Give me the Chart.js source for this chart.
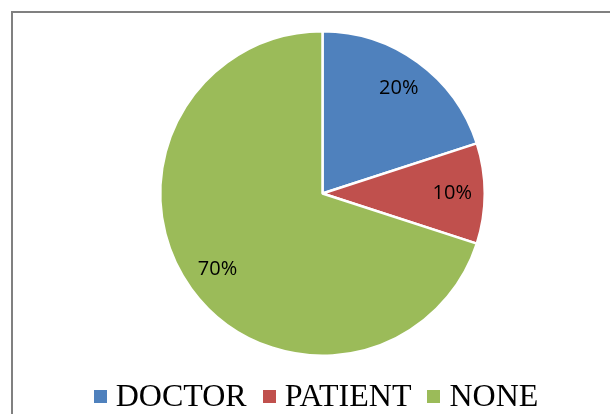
<!DOCTYPE html>
<html>
<head>
<meta charset="utf-8">
<script src="https://cdn.jsdelivr.net/npm/chart.js@4/dist/chart.umd.min.js"></script>
<style>
  html, body { margin: 0; padding: 0; background: #ffffff; overflow: hidden; }
  #wrap { position: relative; width: 610px; height: 414px; }
  #frame { position: absolute; left: 11px; top: 11px; width: 640px; height: 440px;
           border-left: 2px solid #808080; border-top: 2px solid #808080; box-sizing: border-box; }
  canvas { position: absolute; left: 0; top: 0; }
</style>
</head>
<body>
<div id="wrap">
  <div id="frame"></div>
  <canvas id="c" width="610" height="414"></canvas>
</div>
<script>
const categories = ["DOCTOR", "PATIENT", "NONE"];
const values = [20, 10, 70];
const valueLabels = ["20%", "10%", "70%"];
const colors = ["#4F81BD", "#C0504D", "#9BBB59"];

const sliceLabels = {
  id: 'sliceLabels',
  afterDatasetsDraw(chart) {
    const ctx = chart.ctx;
    const meta = chart.getDatasetMeta(0);
    ctx.save();
    ctx.font = '20px "Open Sans", "Liberation Sans", sans-serif';
    ctx.fillStyle = '#000000';
    ctx.textAlign = 'center';
    ctx.textBaseline = 'middle';
    meta.data.forEach((arc, i) => {
      const p = arc.getProps(['x', 'y', 'startAngle', 'endAngle', 'outerRadius'], true);
      const mid = (p.startAngle + p.endAngle) / 2;
      const r = p.outerRadius * 0.8;
      ctx.fillText(valueLabels[i], p.x + Math.cos(mid) * r, p.y + Math.sin(mid) * r);
    });
    ctx.restore();
  }
};

const bottomLegend = {
  id: 'bottomLegend',
  afterDraw(chart) {
    const ctx = chart.ctx;
    ctx.save();
    ctx.font = '32px "Liberation Serif", "Times New Roman", serif';
    const box = 13, gapText = 9, gapItem = 16;
    const widths = categories.map(c => ctx.measureText(c).width);
    let total = 0;
    widths.forEach((w, i) => { total += box + gapText + w + (i < widths.length - 1 ? gapItem : 0); });
    let x = 316 - total / 2;
    const baseline = 406;
    ctx.textBaseline = 'alphabetic';
    ctx.textAlign = 'left';
    categories.forEach((c, i) => {
      ctx.fillStyle = colors[i];
      ctx.fillRect(Math.round(x), 390, box, box);
      x += box + gapText;
      ctx.fillStyle = '#000000';
      ctx.fillText(c, x, baseline);
      x += widths[i] + gapItem;
    });
    ctx.restore();
  }
};

new Chart(document.getElementById('c'), {
  type: 'pie',
  data: {
    labels: categories,
    datasets: [{
      data: values,
      backgroundColor: colors,
      borderColor: '#ffffff',
      borderWidth: 2.5
    }]
  },
  options: {
    responsive: false,
    animation: false,
    layout: { padding: { left: 159, right: 124, top: 30, bottom: 57 } },
    plugins: {
      legend: { display: false },
      tooltip: { enabled: false }
    }
  },
  plugins: [sliceLabels, bottomLegend]
});
</script>
</body>
</html>
